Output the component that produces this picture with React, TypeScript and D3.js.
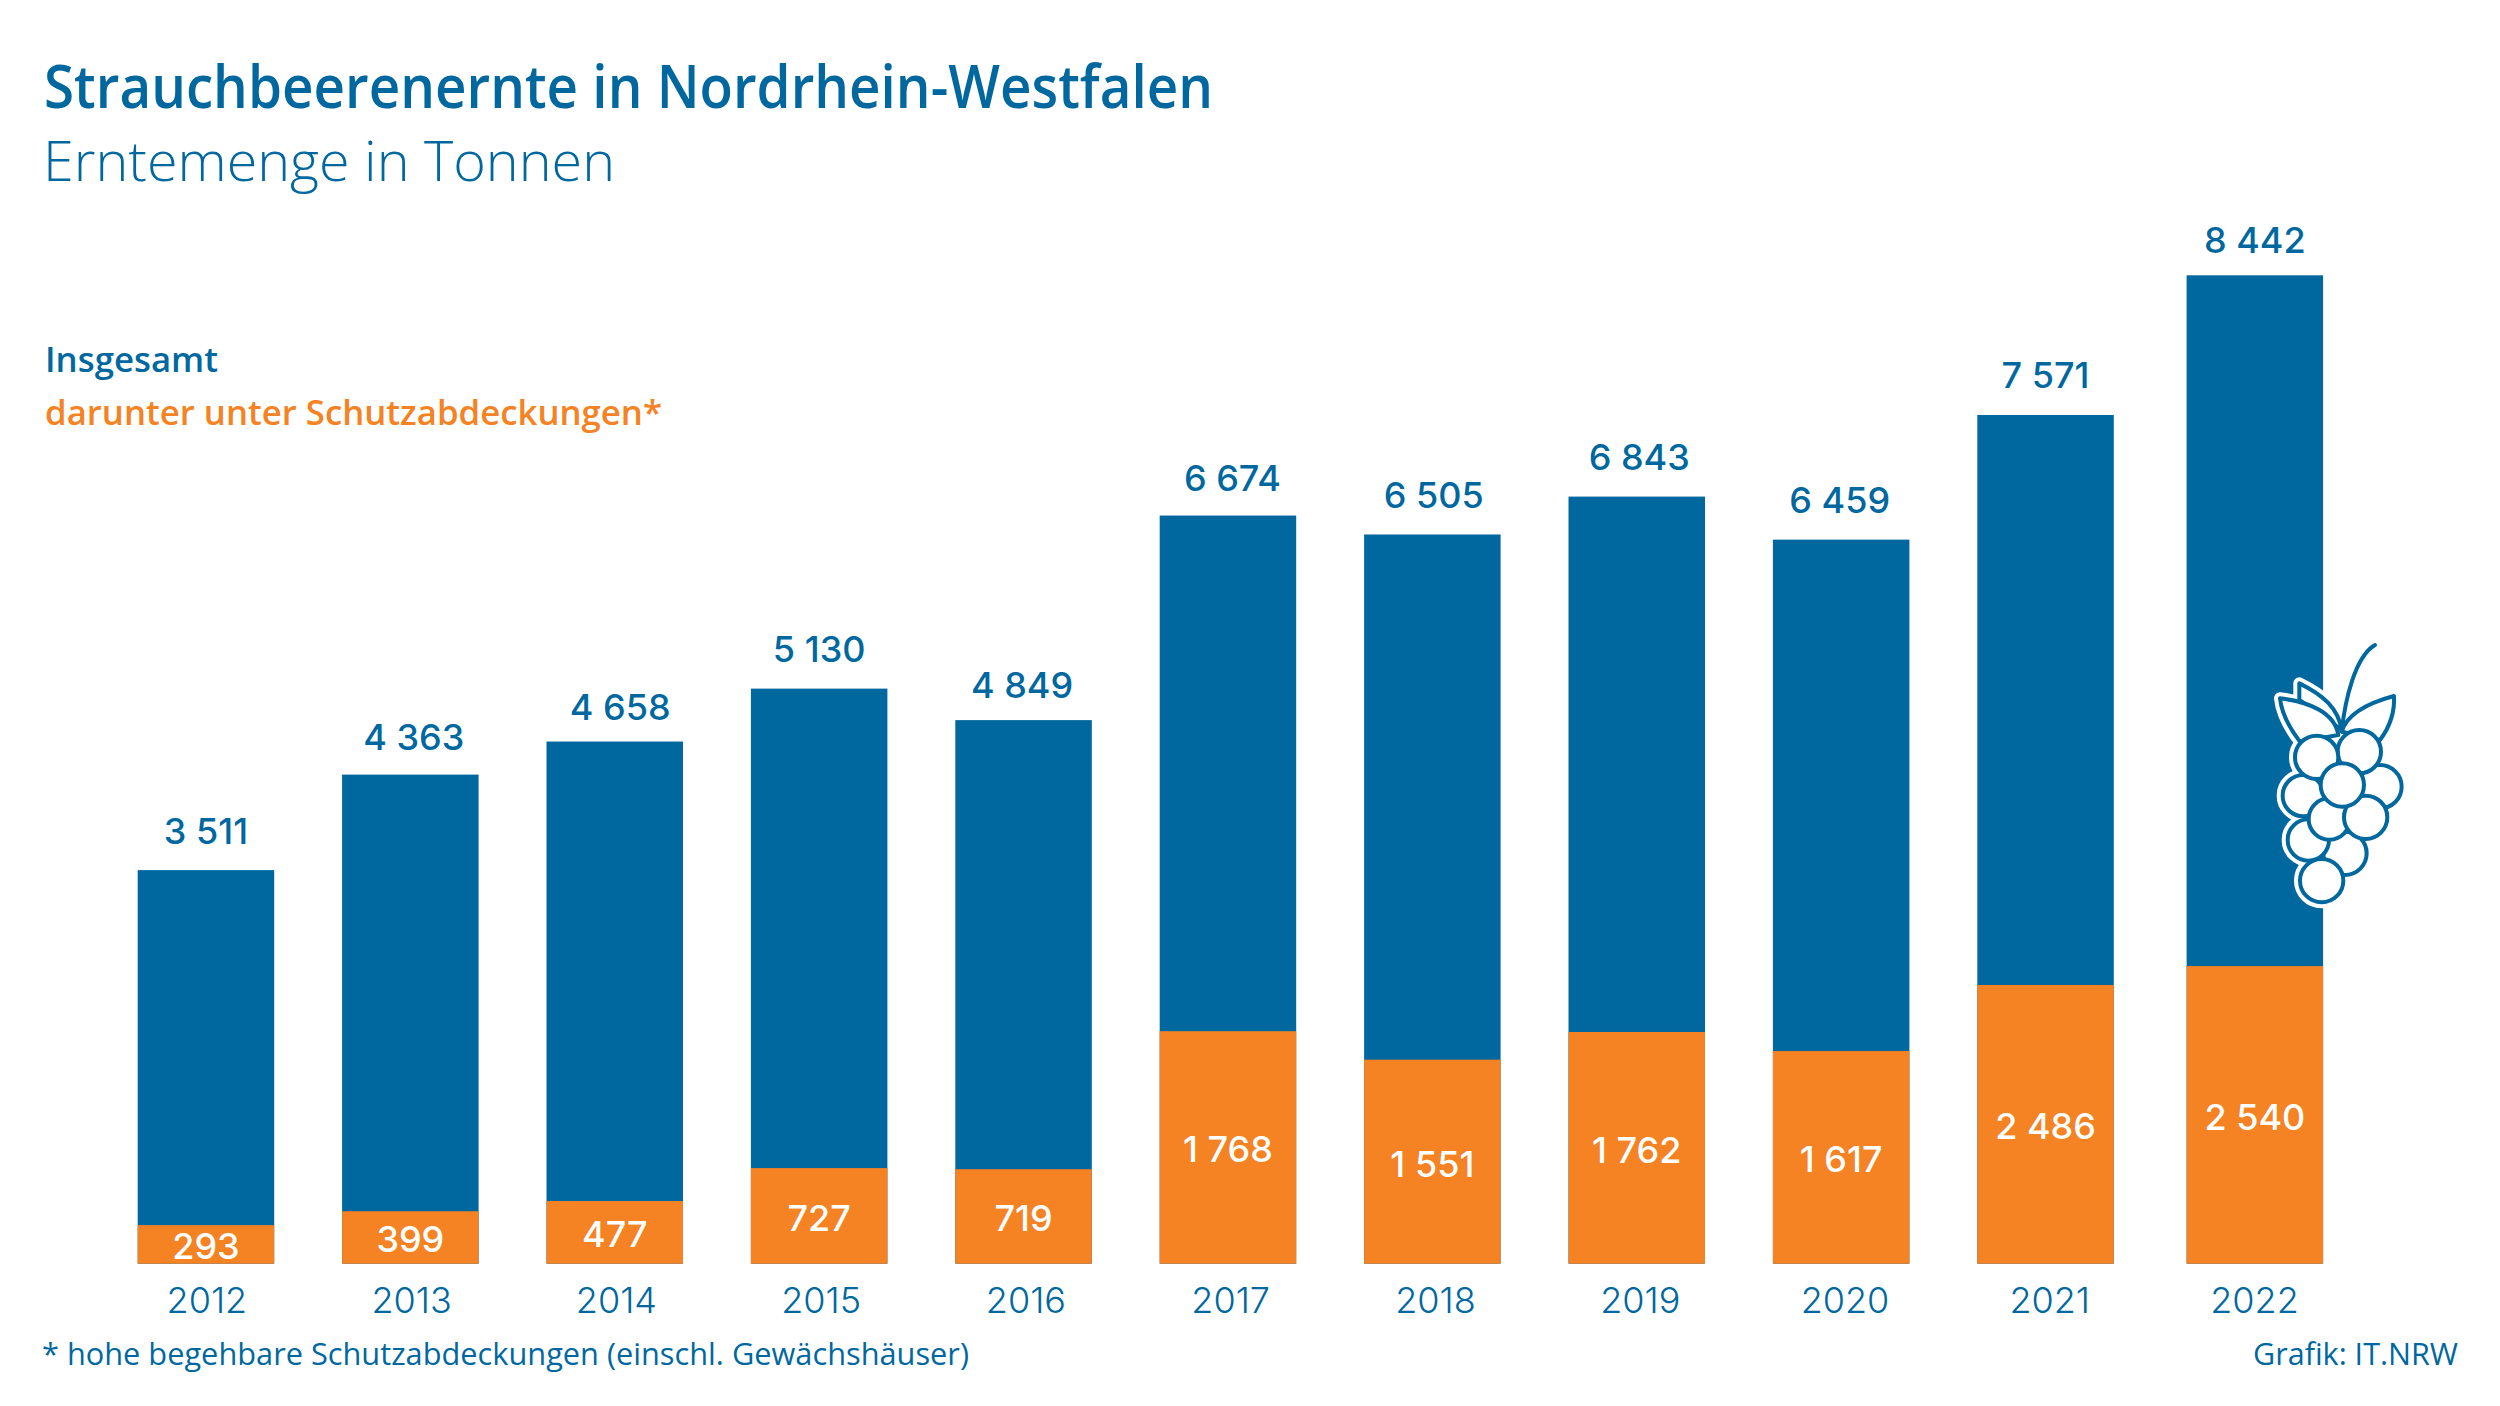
import { useEffect, useRef } from "react";
import * as d3 from "d3";

const years = ["2012", "2013", "2014", "2015", "2016", "2017", "2018", "2019", "2020", "2021", "2022"];

// Values as printed on the chart
const totalLabels = [3511, 4363, 4658, 5130, 4849, 6674, 6505, 6843, 6459, 7571, 8442];
const coveredLabels = [293, 399, 477, 727, 719, 1768, 1551, 1762, 1617, 2486, 2540];

// The bars in the original are not all to scale, so these are the lengths read off the picture
const totalBars = [3511, 4363, 4658, 5130, 4849, 6674, 6505, 6843, 6459, 7571, 8817];
const coveredBars = [344, 468, 559, 853, 843, 2074, 1820, 2067, 1897, 2486, 2655];

// The labels above the bars were placed by hand in the original
const totalLabelDx = [0, 3.5, 5.5, 0, -1.5, 4.5, 1.5, 2.5, -1.5, 0, 0];
const totalLabelDy = [-1.5, 0, 3, -1.5, 3, 0, -1.5, -1.5, -1.5, -1.5, 3];

const BLUE = "#00689F";
const ORANGE = "#F58223";
const TEXT_FONT = "'Open Sans', sans-serif";
const NUM_FONT = "Inter, sans-serif";

// Berry icon, circles back to front
const berries = [
  [435, 700, 65], [325, 660, 62], [310, 527, 62], [540, 500, 65], [478, 395, 65],
  [350, 412, 65], [365, 782, 65], [388, 597, 62], [497, 592, 65], [427, 495, 65],
];
const leaves = [
  "M298,240 L298,190 C370,225 415,265 425,330 Z",
  "M240,235 C330,245 405,280 415,345 L300,365 C265,320 245,280 240,235 Z",
  "M582,228 C500,250 440,285 425,335 L540,360 C570,320 585,280 582,228 Z",
];
const stem = "M425,335 C435,240 465,110 525,75";

export default function App() {
  const svgRef = useRef<SVGSVGElement | null>(null);

  useEffect(() => {
    const svg = d3.select(svgRef.current);
    svg.selectAll("*").remove();

    const baseline = 1263.7;
    const fmt = d3.formatLocale({ decimal: ",", thousands: " ", grouping: [3], currency: ["", ""] }).format(",d");

    const x = d3.scaleBand<string>().domain(years).range([137.7, 2318.2]).paddingInner(0.3322).paddingOuter(0);
    const y = d3.scaleLinear().domain([0, 8817]).range([baseline, 275.3]);
    const yearX = d3.scalePoint<string>().domain(years).range([206.4, 2254]);

    // last bar sits a little further right in the original
    const barX = (year: string) => (x(year) ?? 0) + (year === "2022" ? 4.9 : 0);
    const barMid = (year: string) => barX(year) + x.bandwidth() / 2;

    const addText = (
      str: string, px: number, py: number, size: number, weight: number, fill: string,
      fitWidth?: number, anchor = "start",
    ) => {
      const t = svg.append("text")
        .attr("x", px).attr("y", py)
        .attr("font-family", TEXT_FONT).attr("font-size", size).attr("font-weight", weight)
        .attr("fill", fill).attr("text-anchor", anchor)
        .text(str);
      if (fitWidth) t.attr("textLength", fitWidth).attr("lengthAdjust", "spacingAndGlyphs");
      return t;
    };

    addText("Strauchbeerenernte in Nordrhein-Westfalen", 44, 107.5, 60, 600, BLUE, 1169);
    addText("Erntemenge in Tonnen", 43, 180.7, 56, 300, BLUE, 572);
    addText("Insgesamt", 45, 371.7, 35, 600, BLUE, 173);
    addText("darunter unter Schutzabdeckungen*", 45, 425, 35, 600, ORANGE, 617);
    addText("* hohe begehbare Schutzabdeckungen (einschl. Gewächshäuser)", 42, 1365, 31, 400, BLUE, 927);
    addText("Grafik: IT.NRW", 2253, 1365, 31, 400, BLUE, 205);

    svg.append("g").selectAll("rect").data(years).enter().append("rect")
      .attr("x", (d) => barX(d))
      .attr("width", x.bandwidth())
      .attr("y", (_, i) => y(totalBars[i]))
      .attr("height", (_, i) => baseline - y(totalBars[i]))
      .attr("fill", BLUE);

    svg.append("g").selectAll("rect").data(years).enter().append("rect")
      .attr("x", (d) => barX(d))
      .attr("width", x.bandwidth())
      .attr("y", (_, i) => y(coveredBars[i]))
      .attr("height", (_, i) => baseline - y(coveredBars[i]))
      .attr("fill", ORANGE);

    svg.append("g").selectAll("text").data(years).enter().append("text")
      .attr("x", (d, i) => barMid(d) + totalLabelDx[i])
      .attr("y", (_, i) => y(totalBars[i]) - 25 + totalLabelDy[i])
      .attr("text-anchor", "middle")
      .attr("font-family", NUM_FONT).attr("font-size", 36).attr("font-weight", 500)
      .attr("fill", BLUE)
      .text((_, i) => fmt(totalLabels[i]));

    svg.append("g").selectAll("text").data(years).enter().append("text")
      .attr("x", (d) => barMid(d))
      .attr("y", (_, i) => (y(coveredBars[i]) + baseline) / 2 + 15)
      .attr("text-anchor", "middle")
      .attr("font-family", NUM_FONT).attr("font-size", 36).attr("font-weight", 500)
      .attr("fill", "#fff")
      .text((_, i) => fmt(coveredLabels[i]));

    // Year axis
    const axis = svg.append("g")
      .attr("transform", `translate(0,${baseline})`)
      .call(d3.axisBottom(yearX).tickSize(0));
    axis.select(".domain").remove();
    axis.selectAll("text")
      .attr("y", 49).attr("dy", 0)
      .attr("font-family", NUM_FONT).attr("font-size", 36).attr("font-weight", 300)
      .attr("fill", BLUE);

    // Berry icon with white halo over the last bar
    const icon = svg.append("g").attr("transform", "translate(2200,620) scale(0.3333)");
    const drawShapes = (stroke: string, width: number) => {
      leaves.forEach((d) => {
        icon.append("path").attr("d", d).attr("fill", "#fff").attr("stroke", stroke)
          .attr("stroke-width", width).attr("stroke-linejoin", "round");
      });
      berries.forEach(([cx, cy, r]) => {
        icon.append("circle").attr("cx", cx).attr("cy", cy).attr("r", r)
          .attr("fill", "#fff").attr("stroke", stroke).attr("stroke-width", width);
      });
    };
    drawShapes("#fff", 36);
    icon.append("path").attr("d", stem).attr("fill", "none").attr("stroke", BLUE)
      .attr("stroke-width", 12).attr("stroke-linecap", "round");
    drawShapes(BLUE, 12);
  }, []);

  return (
    <svg
      ref={svgRef}
      width={2500}
      height={1406}
      style={{ position: "fixed", left: 0, top: 0, background: "#fff", display: "block" }}
    />
  );
}
